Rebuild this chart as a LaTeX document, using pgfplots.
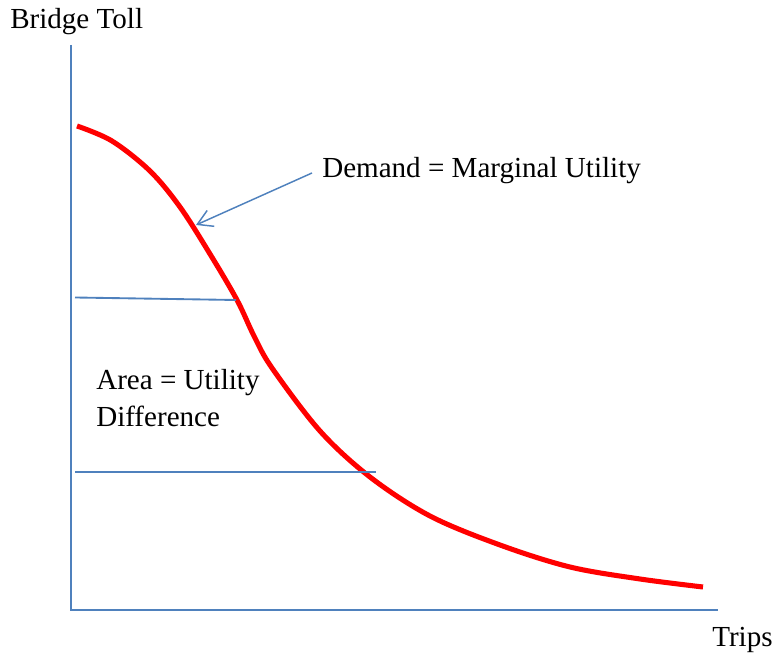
\documentclass[border=0pt]{standalone}
\usepackage{fontspec}
\setmainfont{Liberation Serif}
\usepackage{pgfplots}
\pgfplotsset{compat=1.18}
\usetikzlibrary{arrows.meta}
\definecolor{offblue}{RGB}{79,129,189}
\begin{document}
\begin{tikzpicture}
\begin{axis}[
  scale only axis, width=582pt, height=495pt,
  xmin=0, xmax=776, ymin=0, ymax=660,
  hide axis, clip=false,
]
% bounding box
\path (axis cs:0,0) rectangle (axis cs:776,660);
% axes lines
\addplot[offblue, line width=1.5pt] coordinates {(71,615) (71,50)};
\addplot[offblue, line width=1.5pt] coordinates {(70,50) (718,50)};
% demand curve (y = 660 - pixel row)
\addplot[red, line width=3.8pt, smooth, tension=0.55] coordinates {
(77,534) (112,519) (150,489) (180,453) (210,406) (237,360) (254,324)
(272,292) (320,229) (370,183) (430,144) (500,115) (570,93) (640,81) (703,73)};
% horizontal lines
\addplot[offblue, line width=1.4pt] coordinates {(75,362.5) (236,360)};
\addplot[offblue, line width=1.7pt] coordinates {(75,188) (376,188)};
% arrow
\addplot[offblue, line width=1.1pt, -{Straight Barb[length=11pt,width=13pt,line width=1.1pt]}] coordinates {(312,487) (196,435)};
% labels
\node[anchor=base west, inner sep=0pt, font=\fontsize{21.8}{26}\selectfont] at (axis cs:10,631) {Bridge Toll};
\node[anchor=base west, inner sep=0pt, font=\fontsize{21.8}{26}\selectfont] at (axis cs:322,482) {Demand = Marginal Utility};
\node[anchor=base west, inner sep=0pt, font=\fontsize{21.8}{26}\selectfont] at (axis cs:96,270) {Area = Utility};
\node[anchor=base west, inner sep=0pt, font=\fontsize{21.8}{26}\selectfont] at (axis cs:96,233) {Difference};
\node[anchor=base west, inner sep=0pt, font=\fontsize{21.8}{26}\selectfont] at (axis cs:712,13) {Trips};
\end{axis}
\end{tikzpicture}
\end{document}
